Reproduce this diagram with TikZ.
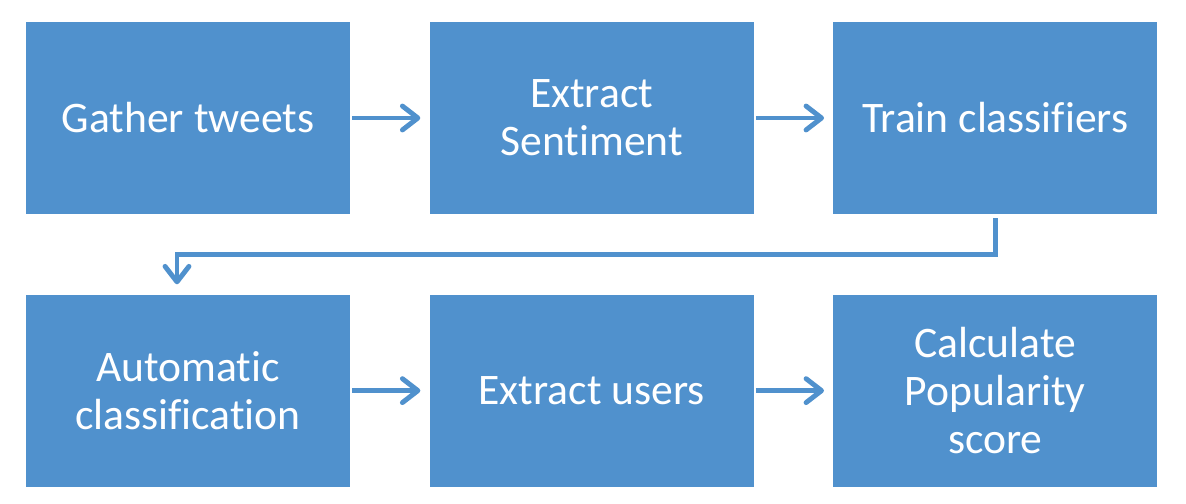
\documentclass[tikz,border=0pt]{standalone}
\usepackage{fontspec}
\setmainfont{Carlito}[Ligatures=NoCommon]
\usepackage{xcolor}
\usetikzlibrary{arrows.meta, positioning}
\definecolor{boxblue}{RGB}{80,145,205}

\begin{document}
\begin{tikzpicture}[x=0.025cm, y=-0.025cm, node distance=2cm and 1.975cm]
    % Define styles
    \tikzstyle{stage}=[rectangle, fill=boxblue, text=white, inner sep=0pt, minimum width=8.1cm, minimum height=4.8cm, align=center, font=\fontsize{31}{34}\selectfont]
    \tikzstyle{flow} = [draw=boxblue, line width=3.5pt, -{Straight Barb[length=11pt, width=17pt, round]}]

    \useasboundingbox (0,0) rectangle (1186,504);

    % Draw the stages
    \node[stage] (gather) at (188,118) {Gather tweets};
    \node[stage, right=of gather] (sentiment) {Extract\\Sentiment};
    \node[stage, right=of sentiment] (train) {Train classifiers};
    \node[stage, below=of gather] (auto) {Automatic\\classification};
    \node[stage, right=of auto] (users) {Extract users};
    \node[stage, right=of users] (score) {Calculate\\Popularity\\score};

    % Draw the arrows
    \foreach \a/\b in {gather/sentiment, sentiment/train, auto/users, users/score}
        \draw[flow] ([xshift=0.05cm]\a.east) -- ([xshift=-0.225cm]\b.west);

    % Wrap from the first row to the second
    \draw[flow] ([yshift=-0.1cm]train.south) -- ++(0,36) -| ([xshift=-0.275cm, yshift=0.25cm]auto.north);

\end{tikzpicture}
\end{document}
